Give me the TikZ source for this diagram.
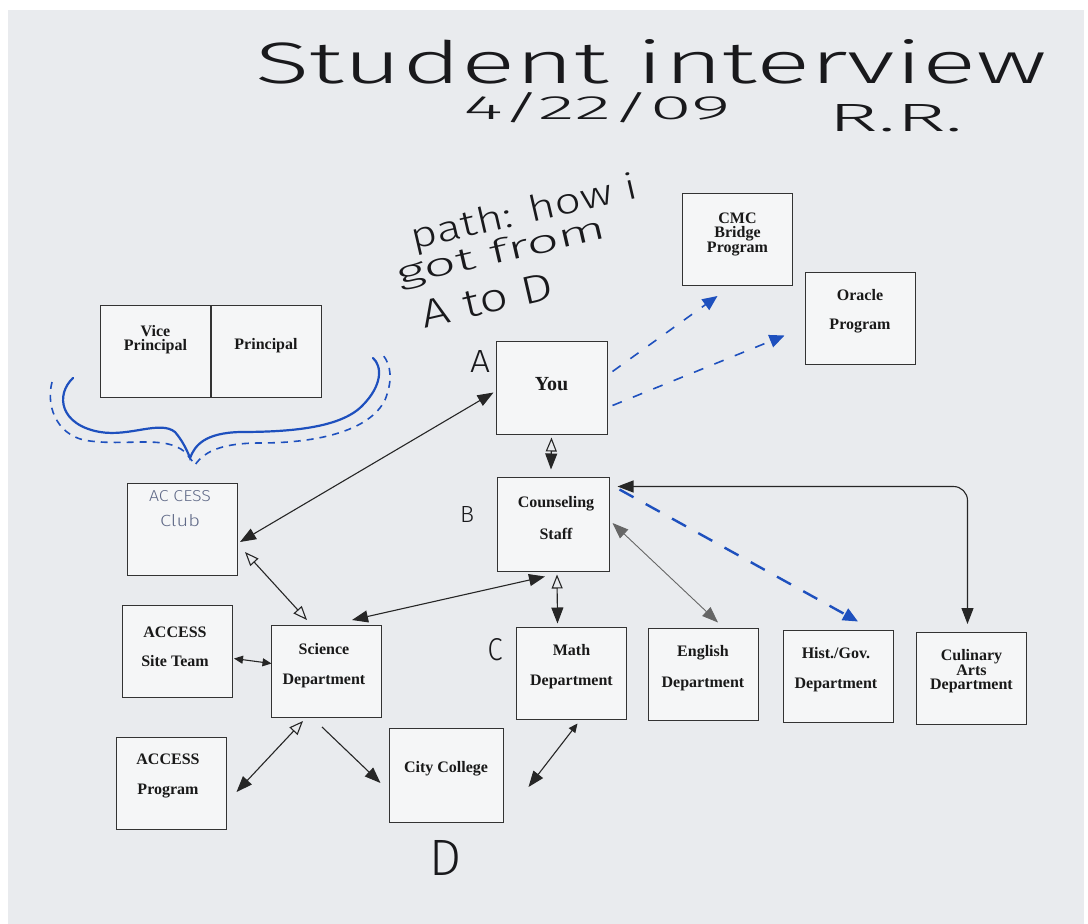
\documentclass[tikz,border=0pt]{standalone}
\usepackage{fontspec}
\setmainfont{Liberation Serif}
\newfontfamily\handfont{Fira Sans Light}
\usetikzlibrary{arrows.meta,calc}
\definecolor{board}{RGB}{233,235,238}
\definecolor{cardfill}{RGB}{245,246,247}
\definecolor{ink}{RGB}{25,25,28}
\definecolor{marker}{RGB}{30,80,190}
\definecolor{pencil}{RGB}{95,105,135}
\tikzset{
  bigtip/.tip={Triangle[length=16pt,width=12pt]},
  opentip/.tip={Triangle[open,length=14pt,width=11pt]},
  smalltip/.tip={Triangle[length=9pt,width=8pt]},
  bluetip/.tip={Triangle[length=15pt,width=13pt]},
  card/.style={draw=black!80, line width=1pt, fill=cardfill, minimum width=110pt, minimum height=92pt, inner sep=0pt},
  lbl/.style={font=\bfseries\fontsize{16}{14}\selectfont, align=center, text=black!90, inner sep=0pt},
  hand/.style={font=\handfont, text=ink, inner sep=0pt},
  conn/.style={draw=black!85, line width=1.1pt},
  bluedash/.style={draw=marker, line width=1.6pt, dash pattern=on 10pt off 12pt},
}
\begin{document}
\begin{tikzpicture}[x=1pt,y=-1pt]
\fill[white] (0,0) rectangle (1088,924);
\fill[board] (8,10) rectangle (1084,924);
\useasboundingbox (0,0) rectangle (1088,924);

% handwritten headings
\node[hand, anchor=base] (title) at (651,83) {\resizebox{792pt}{44pt}{Student interview}};
\node[hand, anchor=base] (date) at (597,119) {\resizebox{267pt}{27pt}{4/22/09}};
\node[hand, anchor=base] (rr) at (896,131) {\resizebox{135pt}{27pt}{R.R.}};
\node[hand, anchor=north west, rotate=13, align=left] (note) at (386,228)
  {\hspace*{22pt}\resizebox{232pt}{27pt}{path: how i}\\
   \resizebox{214pt}{24pt}{got from}\\[12pt]
   \hspace*{15pt}\resizebox{134pt}{27pt}{A to D}};
\node[hand, anchor=base] (la) at (480,372) {\resizebox{20pt}{22pt}{A}};
\node[hand, anchor=base] (lb) at (467,522) {\resizebox{14pt}{16pt}{B}};
\node[hand, anchor=base] (lc) at (495,660) {\resizebox{15pt}{22pt}{C}};
\node[hand, anchor=base] (ld) at (446,875) {\resizebox{32pt}{35pt}{D}};

% blue brace
\draw[marker, line width=2.2pt, line cap=round]
  (73,378) .. controls (55,395) and (60,425) .. (100,432)
  .. controls (130,437) and (160,420) .. (175,432)
  .. controls (182,440) and (187,450) .. (190,458)
  .. controls (195,445) and (205,433) .. (240,432)
  .. controls (290,432) and (340,428) .. (362,406)
  .. controls (383,385) and (382,366) .. (373,358);
\draw[marker, line width=1.6pt, dash pattern=on 7pt off 6pt]
  (52,382) .. controls (45,410) and (60,438) .. (90,441)
  .. controls (130,446) and (165,435) .. (185,452)
  .. controls (190,458) and (193,462) .. (195,465)
  .. controls (205,450) and (225,443) .. (260,443)
  .. controls (320,443) and (370,430) .. (385,400)
  .. controls (393,380) and (391,365) .. (383,355);

% cards
\node[card] (cmc) at (737.5,239.5) {};
\node[lbl] (cmc-t) at (737.5,234) {CMC\\Bridge\\Program};
\node[card] (oracle) at (860,318.5) {};
\node[lbl] (oracle-t) at (860,311.5) {Oracle\\[15pt]Program};
\node[card] (vp) at (155.5,351.5) {};
\node[lbl] (vp-t) at (155.5,339.5) {Vice\\Principal};
\node[card] (pr) at (266,351.5) {};
\node[lbl] (pr-t) at (266,346) {Principal};
\node[card, minimum width=111pt, minimum height=93pt] (you) at (551.5,387.5) {};
\node[lbl, font=\bfseries\fontsize{20}{20}\selectfont] (you-t) at (551.5,384) {You};
\node[card] (club) at (182.5,529) {};
\node[hand, text=pencil] (club-t1) at (180,496) {\resizebox{62pt}{11pt}{AC CESS}};
\node[hand, text=pencil] (club-t2) at (180,521) {\resizebox{40pt}{12pt}{Club}};
\node[card, minimum width=112pt, minimum height=94pt] (couns) at (553,524) {};
\node[lbl] (couns-t) at (556,518) {Counseling\\[16pt]Staff};
\node[card] (site) at (177.5,651.5) {};
\node[lbl] (site-t) at (175,646.5) {ACCESS\\[15pt]Site Team};
\node[card] (sci) at (326,671.5) {};
\node[lbl] (sci-t) at (324,666) {Science\\[16pt]Department};
\node[card] (math) at (571.5,673) {};
\node[lbl] (math-t) at (571.5,667) {Math\\[16pt]Department};
\node[card] (eng) at (703,674) {};
\node[lbl] (eng-t) at (703,668) {English\\[16pt]Department};
\node[card] (hist) at (838,676) {};
\node[lbl] (hist-t) at (836,670) {Hist./Gov.\\[16pt]Department};
\node[card] (cul) at (971.5,678.5) {};
\node[lbl] (cul-t) at (971.5,671.5) {Culinary\\Arts\\Department};
\node[card] (prog) at (171,783) {};
\node[lbl] (prog-t) at (168,776) {ACCESS\\[16pt]Program};
\node[card, minimum width=114pt, minimum height=94pt] (city) at (446,775) {};
\node[lbl] (city-t) at (446,769) {City College};

% black connectors
\draw[conn, bigtip-bigtip] ($(you.west)+(-2,5)$) -- ($(club.east)+(2,13)$);
\draw[conn, opentip-opentip] ($(club.east)+(7,23)$) -- ($(sci.north)+(-19,-5)$);
\draw[conn, opentip-bigtip] ($(you.south)+(0,3)$) -- ($(couns.north)+(-2,-7)$);
\draw[conn, bigtip-bigtip] ($(couns.south)+(-8,5)$) -- ($(sci.north)+(26,-5)$);
\draw[conn, opentip-bigtip] ($(couns.south)+(4,3)$) -- ($(math.north)+(-14,-3)$);
\draw[conn, draw=black!60, line width=0.9pt, bigtip-bigtip] ($(couns.east)+(3,-1)$) -- ($(eng.north)+(15,-5)$);
\draw[conn, rounded corners=14pt, bigtip-bigtip] ($(couns.north east)+(8,10)$) -| ($(cul.north)+(-4,-8)$);
\draw[conn, smalltip-smalltip] ($(site.east)+(1,7)$) -- ($(sci.west)+(1,-8)$);
\draw[conn, opentip-bigtip] ($(sci.south)+(-23,3)$) -- ($(prog.east)+(10,9)$);
\draw[conn, -bigtip] ($(sci.south)+(-4,9)$) -- ($(city.west)+(-8,8)$);
\draw[conn, smalltip-bigtip] ($(math.south)+(6,4)$) -- ($(city.east)+(25,12)$);

% blue dashed connectors
\draw[bluedash, -bluetip] ($(you.east)+(5,-16)$) -- ($(cmc.south)+(-20,10)$);
\draw[bluedash, -bluetip] ($(you.east)+(5,18)$) -- ($(oracle.west)+(-20,17)$);
\draw[bluedash, line width=2.4pt, dash pattern=on 16pt off 14pt, -bluetip] ($(couns.north east)+(10,13)$) -- ($(hist.north)+(20,-8)$);
\end{tikzpicture}
\end{document}
